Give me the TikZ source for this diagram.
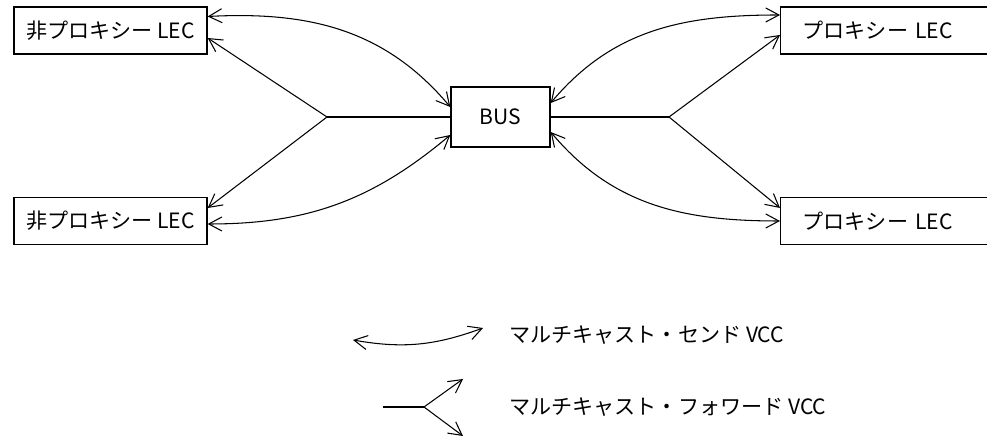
\documentclass[tikz,border=0pt]{standalone}
\usepackage{fontspec}
\setmainfont{Noto Sans CJK JP}
\usetikzlibrary{arrows.meta, positioning, calc}

\begin{document}
\begin{tikzpicture}[x=0.02cm, y=0.02cm, line width=0.6pt,
    lecbox/.style={draw, line width=0.8pt, minimum height=0.94cm, font=\fontsize{12}{14}\selectfont},
    vcc/.style={{Straight Barb[length=7.5pt,width=8pt]}-{Straight Barb[length=7.5pt,width=8pt]}},
    fwd/.style={-{Straight Barb[length=7.5pt,width=8pt]}},
    legtext/.style={anchor=west, font=\fontsize{12}{14}\selectfont}]
    \useasboundingbox (0,0) rectangle (987,438);

    % LECs
    \node[lecbox, minimum width=3.86cm] (lec1) at (110.5,407.5) {非プロキシー LEC};
    \node[lecbox, minimum width=3.86cm] (lec2) at (110.5,217) {非プロキシー LEC};
    \node[lecbox, anchor=west, text width=3.6cm, inner xsep=0.44cm] (plec1) at (780,407.5) {プロキシー LEC};
    \node[lecbox, anchor=west, text width=3.6cm, inner xsep=0.44cm] (plec2) at (780,217) {プロキシー LEC};

    % BUS
    \node[lecbox, minimum width=1.98cm, minimum height=1.2cm] (bus) at (500.5,321) {BUS};

    % send VCCs
    \draw[vcc] ($(lec1.east)+(0,14)$) to[out=3,in=130] ($(bus.west)+(0,10)$);
    \draw[vcc] ($(lec2.east)+(0,-3)$) to[out=0,in=-140] ($(bus.west)+(0,-18)$);
    \draw[vcc] ($(bus.east)+(0,14)$) to[out=50,in=180] ($(plec1.west)+(0,15.5)$);
    \draw[vcc] ($(bus.east)+(0,-15)$) to[out=-50,in=180] (plec2.west);

    % forward VCCs
    \coordinate (lfork) at (327,321);
    \coordinate (rfork) at (669,321);
    \draw (bus.west) -- (lfork);
    \draw[fwd] (lfork) -- ($(lec1.east)+(0,-7.5)$);
    \draw[fwd] (lfork) -- ($(lec2.east)+(0,13)$);
    \draw (bus.east) -- (rfork);
    \draw[fwd] (rfork) -- ($(plec1.west)+(0,-4.5)$);
    \draw[fwd] (rfork) -- ($(plec2.west)+(0,13)$);

    % legend
    \node[legtext] (sendtxt) at (503,103) {マルチキャスト・センド VCC};
    \node[legtext] (fwdtxt) at (503,31) {マルチキャスト・フォワード VCC};
    \coordinate (s1) at (353,98);
    \coordinate (s2) at (483,110);
    \draw[vcc] (s1) to[out=-10,in=200] (s2);
    \coordinate (f0) at (383,31);
    \coordinate (f1) at (424,31);
    \coordinate (f2) at (463,59);
    \coordinate (f3) at (463,2);
    \draw (f0) -- (f1);
    \draw[fwd] (f1) -- (f2);
    \draw[fwd] (f1) -- (f3);
\end{tikzpicture}
\end{document}
